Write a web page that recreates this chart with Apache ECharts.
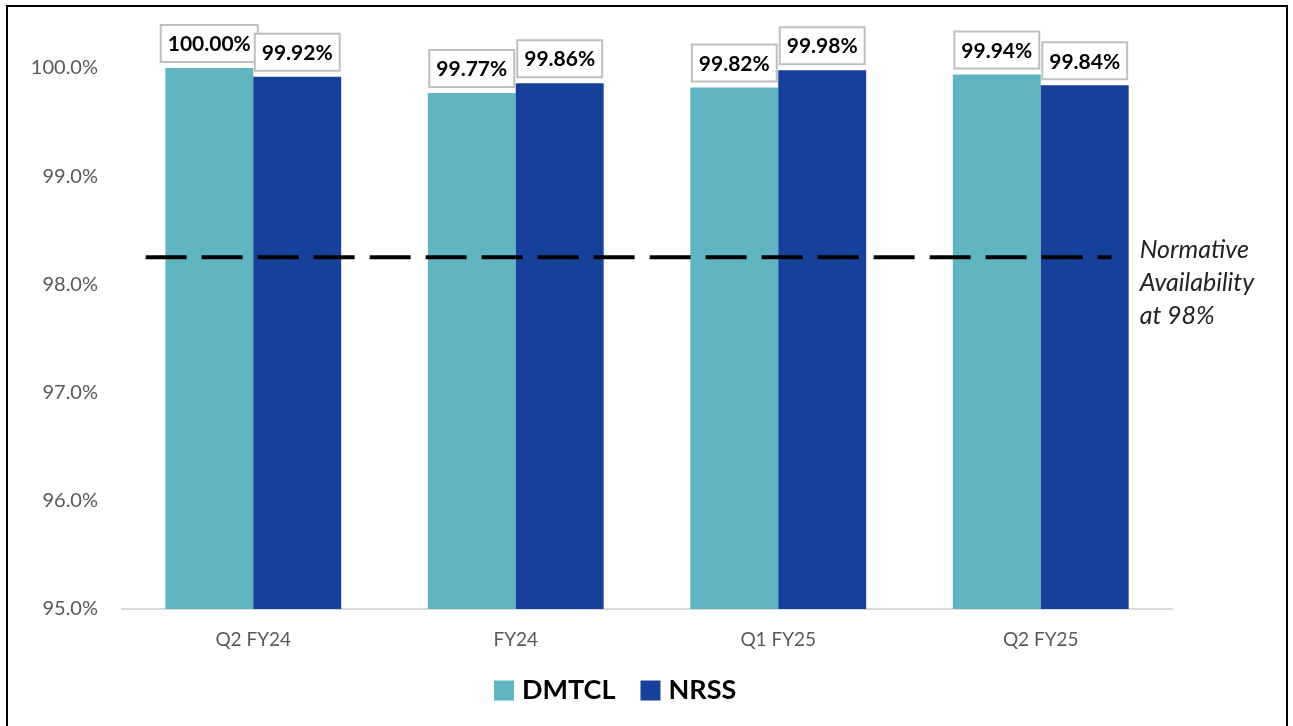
<!DOCTYPE html>
<html>
<head>
<meta charset="utf-8">
<script src="https://cdn.jsdelivr.net/npm/echarts@6/dist/echarts.min.js"></script>
<style>
html,body{margin:0;padding:0;background:#fff;}
#chart{position:absolute;left:0;top:0;width:1293px;height:726px;}
#frame{position:absolute;left:6px;top:5px;width:1278px;height:740px;border:2px solid #000;pointer-events:none;}
</style>
</head>
<body>
<div id="chart"></div>
<div id="frame"></div>
<script>
const categories = ['Q2 FY24', 'FY24', 'Q1 FY25', 'Q2 FY25'];
const dmtcl = [100.00, 99.77, 99.82, 99.94];
const nrss = [99.92, 99.86, 99.98, 99.84];
const yTicks = [95, 96, 97, 98, 99, 100];
const normLevel = 98.25;
const normSpan = [0.09, 3.77];
const normText = 'Normative\nAvailability\nat 98%';

const FONT = 'Lato, "Open Sans", sans-serif';
const chart = echarts.init(document.getElementById('chart'));

const barLabel = {
  show: true,
  position: 'top',
  distance: 7,
  formatter: p => p.value.toFixed(2) + '%',
  fontFamily: FONT,
  fontSize: 21,
  fontWeight: 'bold',
  color: '#000',
  backgroundColor: '#fff',
  borderColor: '#BFBFBF',
  borderWidth: 2,
  padding: [8, 6, 6, 6]
};

chart.setOption({
  animation: false,
  grid: { left: 122, right: 121, top: 68, bottom: 117 },
  legend: {
    data: ['DMTCL', 'NRSS'],
    top: 672,
    left: 489,
    itemWidth: 20,
    itemHeight: 20,
    itemGap: 25,
    icon: 'rect',
    textStyle: { fontFamily: FONT, fontSize: 27, fontWeight: 'bold', color: '#000', padding: [0, 0, 0, 3] }
  },
  xAxis: [
    {
      type: 'category',
      data: categories,
      axisLine: { lineStyle: { color: '#D9D9D9', width: 2 } },
      axisTick: { show: false },
      axisLabel: { margin: 21, fontFamily: FONT, fontSize: 19, color: '#595959' }
    },
    { type: 'value', min: 0, max: 4, show: false }
  ],
  yAxis: {
    type: 'value',
    min: yTicks[0],
    max: yTicks[yTicks.length - 1],
    interval: 1,
    axisLine: { show: false },
    axisTick: { show: false },
    splitLine: { show: false },
    axisLabel: {
      margin: 24,
      fontFamily: FONT,
      fontSize: 20,
      color: '#595959',
      formatter: v => v.toFixed(1) + '%'
    }
  },
  series: [
    {
      name: 'DMTCL', type: 'bar', data: dmtcl,
      barGap: '0%', barCategoryGap: '33%',
      itemStyle: { color: '#61B4C1' },
      label: barLabel
    },
    {
      name: 'NRSS', type: 'bar', data: nrss,
      barGap: '0%', barCategoryGap: '33%',
      itemStyle: { color: '#17409A' },
      label: barLabel
    },
    {
      name: 'norm', type: 'line', xAxisIndex: 1, yAxisIndex: 0,
      symbol: 'none', z: 5, clip: false,
      lineStyle: { color: '#000', width: 4, type: [41, 15] },
      endLabel: {
        show: true, distance: 28, offset: [0, 26],
        formatter: normText,
        fontFamily: FONT, fontSize: 25, fontStyle: 'italic',
        color: '#222', lineHeight: 33, align: 'left'
      },
      data: [[normSpan[0], normLevel], [normSpan[1], normLevel]]
    }
  ]
});
</script>
</body>
</html>
